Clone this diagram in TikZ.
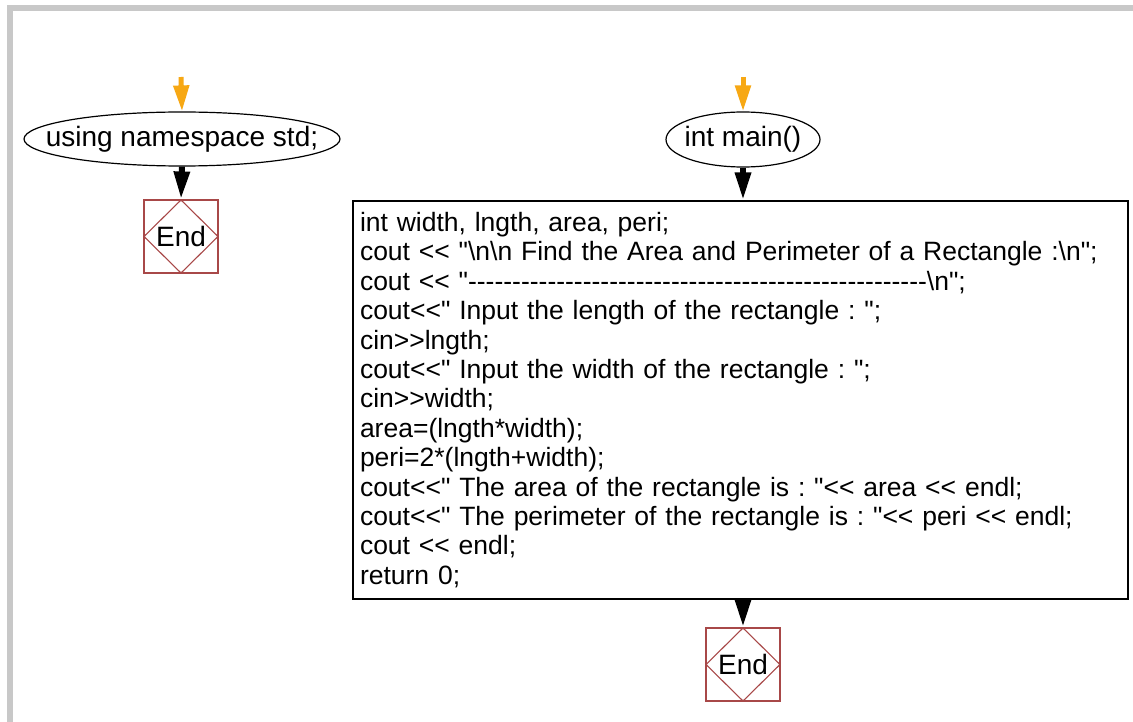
\documentclass[tikz,border=0pt]{standalone}
\usepackage{fontspec}
\setmainfont{Liberation Sans}[Ligatures=TeXOff]
\usetikzlibrary{shapes.geometric,arrows.meta}
\frenchspacing

\definecolor{framegray}{RGB}{200,200,200}
\definecolor{endred}{RGB}{168,72,72}
\definecolor{startorange}{RGB}{247,168,20}

\tikzset{
  codetxt/.style={font=\fontsize{26.5}{29.4}\selectfont},
  labeltxt/.style={font=\fontsize{28}{30}\selectfont},
  oval/.style={labeltxt, draw=black, line width=1.2pt, ellipse,
    inner xsep=-30pt, inner ysep=0pt},
  endbox/.style={labeltxt, draw=endred, line width=1.1pt, minimum width=74pt,
    minimum height=73pt, inner sep=0pt,
    path picture={
      \draw[endred, line width=1.1pt]
        (path picture bounding box.north) -- (path picture bounding box.east)
        -- (path picture bounding box.south) -- (path picture bounding box.west)
        -- cycle;}},
  codebox/.style={codetxt, draw=black, line width=1.2pt, align=left,
    text width=761pt, minimum width=775pt, minimum height=398pt,
    inner xsep=7pt, inner ysep=0pt},
  startarrow/.style={draw=startorange, line width=5pt,
    -{Triangle[width=15pt,length=26pt]}},
  flow/.style={draw=black, line width=6pt,
    -{Triangle[width=15pt,length=28pt]}}
}

\begin{document}
\begin{tikzpicture}[x=1pt,y=-1pt]
  \useasboundingbox (0,0) rectangle (1133,722);
  \fill[white] (0,0) rectangle (1133,722);
  % panel frame
  \fill[framegray] (7,5) rectangle (1133,11);
  \fill[framegray] (7,5) rectangle (13,722);

  % left flow
  \coordinate (s1) at (181,77);
  \node[oval, minimum width=316pt, minimum height=54pt] (ns) at (182,139) {using namespace std;};
  \node[endbox] (end1) at (181,236.5) {End};
  \draw[startarrow] (s1) -- (ns.north);
  \draw[flow] (ns.south) -- (end1.north);

  % right flow
  \coordinate (s2) at (743,77);
  \node[oval, minimum width=154pt, minimum height=55pt] (main) at (743,139.5) {int main()};
  \node[codebox] (code) at (740.5,400) {int width, lngth, area, peri;\\
cout << "\textbackslash n\textbackslash n Find the Area and Perimeter of a Rectangle :\textbackslash n";\\
cout << "----------------------------------------------------\textbackslash n";\\
cout<<" Input the length of the rectangle : ";\\
cin>>lngth;\\
cout<<" Input the width of the rectangle : ";\\
cin>>width;\\
area=(lngth*width);\\
peri=2*(lngth+width);\\
cout<<" The area of the rectangle is : "<< area << endl;\\
cout<<" The perimeter of the rectangle is : "<< peri << endl;\\
cout << endl;\\
return 0;};
  \node[endbox] (end2) at (743,664.5) {End};
  \draw[startarrow] (s2) -- (main.north);
  \draw[flow] (main.south) -- (code.north -| main.south);
  \draw[flow] (code.south -| end2.north) -- (end2.north);
\end{tikzpicture}
\end{document}
